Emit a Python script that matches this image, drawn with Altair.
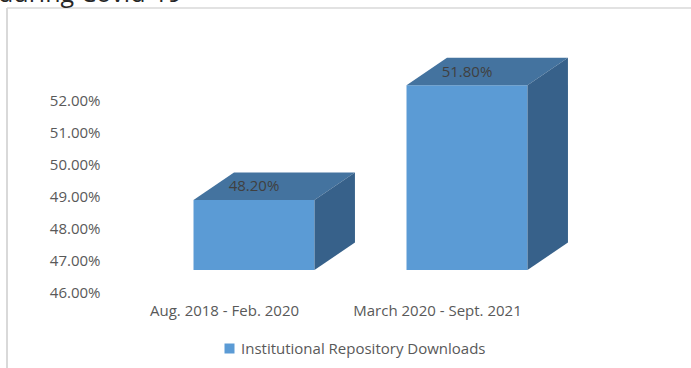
import altair as alt
import pandas as pd

# ---- data ----
categories = ["Aug. 2018 - Feb. 2020", "March 2020 - Sept. 2021"]
values = [48.2, 51.8]                      # percent
value_labels = ["48.20%", "51.80%"]
series_name = "Institutional Repository Downloads"
y_ticks = [46, 47, 48, 49, 50, 51, 52]
title_text = "during Covid-19"

# ---- styling / geometry constants ----
FONT = "Open Sans"
BASE = 46.0          # floor of the value axis
HALF_W = 0.284       # half width of the front face (x units, 1 unit = category step)
DX = 0.190           # depth in x units
DY = 0.863           # depth in value units
FRONT = "#5B9BD5"
TOP = "#44739F"
SIDE = "#37618A"
BORDER = "#d9d9d9"

W, H = 550, 230
PAD_L, PAD_T = 110, 40

idx = list(range(len(categories)))
front = pd.DataFrame({
    "i": idx, "cat": categories, "v": values, "lab": value_labels,
    "series": [series_name] * len(categories),
})
front["x0"] = front["i"] - HALF_W
front["x1"] = front["i"] + HALF_W
front["base"] = BASE
front["ylab"] = front["v"] + DY / 2

top_rows, side_rows = [], []
for i, v in zip(idx, values):
    x0, x1 = i - HALF_W, i + HALF_W
    top_rows += [
        {"bar": f"b{i}", "px": x0, "lo": v, "hi": v},
        {"bar": f"b{i}", "px": x0 + DX, "lo": v, "hi": v + DY},
        {"bar": f"b{i}", "px": x1, "lo": v, "hi": v + DY},
        {"bar": f"b{i}", "px": x1 + DX, "lo": v + DY, "hi": v + DY},
    ]
    side_rows += [
        {"bar": f"b{i}", "px": x1, "lo": BASE, "hi": v},
        {"bar": f"b{i}", "px": x1 + DX, "lo": BASE + DY, "hi": v + DY},
    ]
top_df = pd.DataFrame(top_rows)
side_df = pd.DataFrame(side_rows)

xs = alt.Scale(domain=[(PAD_L - 254) / 213, (PAD_L + W - 254) / 213], nice=False, zero=False)
ys = alt.Scale(domain=[BASE, BASE + H / 31.85], nice=False, zero=False)

label_expr = " : ".join(
    f"datum.value == {i} ? '{c}'" for i, c in enumerate(categories)
) + " : ''"

x_axis = alt.Axis(
    values=idx, labelExpr=label_expr, title=None, domain=False, ticks=False,
    grid=False, labelOffset=-30, labelPadding=33, labelFont=FONT,
    labelFontSize=15, labelColor="#595959", labelOverlap=False, labelLimit=0)
y_axis = alt.Axis(
    values=y_ticks, labelExpr="format(datum.value, '.2f') + '%'", title=None,
    domain=False, ticks=False, grid=False, labelOffset=22, labelPadding=10,
    labelFont=FONT, labelFontSize=15, labelColor="#595959", labelOverlap=False,
    labelBound=False, labelFlush=False)

front_layer = alt.Chart(front).mark_rect(stroke=None).encode(
    x=alt.X("x0:Q", scale=xs, axis=x_axis),
    x2="x1:Q",
    y=alt.Y("v:Q", scale=ys, axis=y_axis),
    y2="base:Q",
    color=alt.Color("series:N", scale=alt.Scale(range=[FRONT]), legend=alt.Legend(
        title=None, orient="none", legendX=112, legendY=301, symbolType="square",
        symbolSize=100, symbolStrokeWidth=0, labelFont=FONT, labelFontSize=15,
        labelColor="#595959", labelLimit=0)),
)

top_layer = alt.Chart(top_df).mark_area(color=TOP, opacity=1, line=False).encode(
    x=alt.X("px:Q", scale=xs, axis=x_axis),
    y=alt.Y("lo:Q", scale=ys, stack=None, axis=y_axis),
    y2="hi:Q",
    detail="bar:N",
)
side_layer = alt.Chart(side_df).mark_area(color=SIDE, opacity=1, line=False).encode(
    x=alt.X("px:Q", scale=xs, axis=x_axis),
    y=alt.Y("lo:Q", scale=ys, stack=None, axis=y_axis),
    y2="hi:Q",
    detail="bar:N",
)
text_layer = alt.Chart(front).mark_text(
    font=FONT, fontSize=15, color="#404040", align="center", baseline="middle"
).encode(
    x=alt.X("i:Q", scale=xs, axis=x_axis),
    y=alt.Y("ylab:Q", scale=ys, axis=y_axis),
    text="lab:N",
)

deco = pd.DataFrame({"t": [title_text]})
left_rule = alt.Chart(deco).mark_rule(color=BORDER, strokeWidth=2).encode(
    x=alt.value(7 - PAD_L), y=alt.value(8 - PAD_T), y2=alt.value(368 - PAD_T)
)
top_rule = alt.Chart(deco).mark_rule(color=BORDER, strokeWidth=1.5).encode(
    x=alt.value(7 - PAD_L), x2=alt.value(691 - PAD_L), y=alt.value(8 - PAD_T)
)
title = alt.Chart(deco).mark_text(
    font=FONT, fontSize=25, color="#262626", align="left", baseline="alphabetic"
).encode(x=alt.value(-PAD_L - 2), y=alt.value(2 - PAD_T), text="t:N")

chart = alt.layer(front_layer, top_layer, side_layer, text_layer, left_rule, top_rule, title).resolve_scale(
    color="independent"
).properties(
    width=W, height=H,
    autosize=alt.AutoSizeParams(type="none"),
    padding={"left": PAD_L, "top": PAD_T, "right": 691 - PAD_L - W, "bottom": 368 - PAD_T - H},
    background="white",
).configure_view(stroke=None).configure_axis(labelOverlap=False)

chart.save("out.html", embed_options={"renderer": "svg", "actions": False})
